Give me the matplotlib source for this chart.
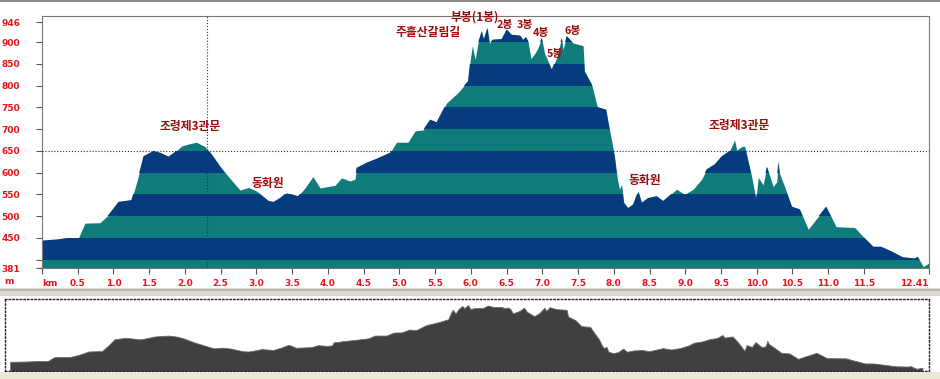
import numpy as np
import matplotlib
matplotlib.use("Agg")
import matplotlib.pyplot as plt
from matplotlib.patches import Rectangle

# Elevation profile (distance in km, elevation in m)
km = [0.00, 0.23, 0.39, 0.51, 0.60, 0.81, 0.93, 1.07, 1.25, 1.32, 1.37, 1.42,
      1.56, 1.65, 1.77, 1.88, 1.95, 2.05, 2.16, 2.28, 2.37, 2.51, 2.65, 2.77,
      2.89, 3.00, 3.17, 3.24, 3.33, 3.42, 3.58, 3.68, 3.79, 3.89, 4.10, 4.19,
      4.31, 4.38, 4.40, 4.54, 4.68, 4.87, 4.96, 5.12, 5.22, 5.33, 5.43, 5.52,
      5.66, 5.82, 5.92, 5.96, 5.99, 6.02, 6.06, 6.10, 6.15, 6.18, 6.23, 6.26,
      6.31, 6.43, 6.50, 6.57, 6.69, 6.73, 6.77, 6.80, 6.84, 6.90, 6.94, 6.99,
      7.03, 7.13, 7.20, 7.27, 7.29, 7.34, 7.43, 7.57, 7.59, 7.69, 7.77, 7.89,
      7.94, 8.01, 8.05, 8.08, 8.11, 8.14, 8.20, 8.27, 8.34, 8.39, 8.48, 8.60,
      8.69, 8.88, 8.99, 9.11, 9.23, 9.30, 9.41, 9.51, 9.62, 9.69, 9.72, 9.79,
      9.83, 9.85, 9.92, 9.99, 10.02, 10.09, 10.14, 10.23, 10.28, 10.30, 10.32,
      10.39, 10.49, 10.60, 10.72, 10.97, 11.11, 11.37, 11.49, 11.63, 11.74,
      11.90, 12.04, 12.21, 12.25, 12.33, 12.41]
elev = [444, 447, 451, 450, 484, 485, 503, 533, 537, 575, 606, 638,
        650, 646, 637, 650, 661, 666, 670, 660, 643, 610, 583, 560,
        566, 558, 535, 533, 542, 554, 546, 565, 591, 565, 571, 588,
        581, 585, 611, 623, 632, 646, 670, 670, 696, 698, 722, 716,
        760, 784, 803, 810, 856, 892, 860, 898, 925, 906, 933, 898,
        906, 907, 929, 917, 915, 905, 912, 902, 862, 875, 887, 910,
        875, 837, 864, 910, 883, 914, 898, 892, 833, 803, 751, 745,
        699, 638, 585, 562, 573, 531, 519, 527, 558, 531, 542, 546,
        535, 562, 550, 562, 585, 608, 619, 638, 650, 675, 652, 660,
        661, 648, 598, 539, 589, 572, 614, 568, 579, 625, 598,
        568, 522, 516, 470, 522, 476, 474, 453, 430, 430,
        418, 406, 403, 407, 384, 393]

# Place names on the profile
place_names = ["조령제3관문", "동화원", "주흘산갈림길", "부봉(1봉)",
               "동화원", "조령제3관문"]
place_km = [2.07, 3.16, 5.40, 6.06, 8.43, 9.76]
place_m = [707, 576, 921, 957, 583, 709]

# numbered peaks (smaller labels)
peak_names = ["2봉", "3봉", "4봉", "5봉", "6봉"]
peak_km = [6.48, 6.76, 6.98, 7.18, 7.42]
peak_m = [939, 939, 922, 873, 925]

x_ticks = [0, 0.5, 1.0, 1.5, 2.0, 2.5, 3.0, 3.5, 4.0, 4.5, 5.0, 5.5, 6.0, 6.5,
           7.0, 7.5, 8.0, 8.5, 9.0, 9.5, 10.0, 10.5, 11.0, 11.5, 12.41]
x_labels = ["km"] + ["%.1f" % v for v in x_ticks[1:-1]] + ["12.41"]
y_ticks = [381, 450, 500, 550, 600, 650, 700, 750, 800, 850, 900, 946]

# cursor position
cursor_km = 2.31
cursor_m = 650

navy = "#063c7e"
teal = "#0f7b7a"
red = "#e8141c"
darkred = "#9a0c0c"
kfont = ["Noto Sans CJK KR", "DejaVu Sans"]

fig = plt.figure(figsize=(9.4, 3.79), dpi=100, facecolor="white")
W, H = 940.0, 379.0

ax = fig.add_axes([42 / W, 1 - 268 / H, 887 / W, 252 / H])
ax.set_xlim(0, 12.41)
ax.set_ylim(381, 960)

# profile polygon, then navy bands every other 50 m clipped to it
profile = ax.fill_between(km, 381, elev, color=teal, lw=0, zorder=1)
clip = profile.get_paths()[0]
for lo in range(400, 960, 100):
    band = ax.axhspan(lo, lo + 50, color=navy, lw=0, zorder=2)
    band.set_clip_path(clip, ax.transData)

ax.axvline(cursor_km, color="#333333", ls=":", lw=0.8, zorder=3)
ax.axhline(cursor_m, color="#333333", ls=":", lw=0.8, zorder=3)

for name, x, y in zip(place_names, place_km, place_m):
    ax.text(x, y, name, ha="center", va="center", fontsize=8.5,
            fontweight="bold", color=darkred, family=kfont, clip_on=False,
            zorder=4)
for name, x, y in zip(peak_names, peak_km, peak_m):
    ax.text(x, y, name, ha="center", va="center", fontsize=7.8,
            fontweight="bold", color=darkred, family=kfont, clip_on=False,
            zorder=4)

ax.set_xticks(x_ticks)
ax.set_xticklabels(x_labels)
ax.set_yticks(y_ticks)
ax.set_yticks([400], minor=True)
ax.tick_params(axis="x", length=4, width=0.8, color="#555555", pad=4,
               labelsize=6.5, labelcolor=red)
ax.tick_params(axis="y", which="both", length=4, width=0.8, color="#555555",
               pad=25, labelsize=6.5, labelcolor=red)
for lab in ax.get_yticklabels():
    lab.set_horizontalalignment("left")
    lab.set_fontweight("bold")
for lab in ax.get_xticklabels():
    lab.set_fontweight("bold")
ax.get_xticklabels()[-1].set_horizontalalignment("right")
ax.get_xticklabels()[0].set_horizontalalignment("left")
for s in ax.spines.values():
    s.set_color("#777777")
    s.set_linewidth(0.8)
fig.text(4 / W, 1 - 281 / H, "m", color=red, fontsize=6.5, fontweight="bold",
         va="center", ha="left")

# window borders and separator bar between the two panels
fig.patches.append(Rectangle((0, 1 - 2 / H), 1, 2 / H, transform=fig.transFigure,
                             facecolor="#8c8c8c", edgecolor="none", zorder=0))
fig.patches.append(Rectangle((0, 1 - 296 / H), 1, 8 / H, transform=fig.transFigure,
                             facecolor="#dcdad2", edgecolor="none", zorder=0))
fig.patches.append(Rectangle((0, 1 - 291 / H), 1, 2 / H, transform=fig.transFigure,
                             facecolor="#b8b6ae", edgecolor="none", zorder=0))
fig.patches.append(Rectangle((0, 0), 1, 7 / H, transform=fig.transFigure,
                             facecolor="#ece9d8", edgecolor="none", zorder=0))

# overview panel
ov = fig.add_axes([5 / W, 1 - 371 / H, 924 / W, 72 / H])
ov.set_xlim(-0.07, 12.5)
ov.set_ylim(365, 985)
ov.fill_between(km, 365, elev, color="#404040", lw=0.6, edgecolor="#6a6a6a")
ov.set_xticks([])
ov.set_yticks([])
for s in ov.spines.values():
    s.set_linestyle(":")
    s.set_color("#222222")
    s.set_linewidth(1.0)

fig.savefig("out.png", dpi=100, facecolor=fig.get_facecolor())
